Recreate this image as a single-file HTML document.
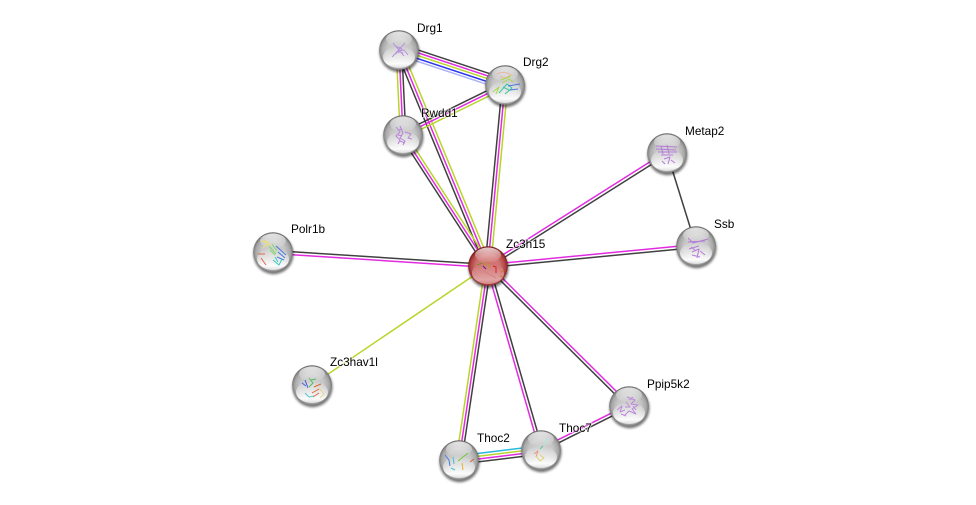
<!DOCTYPE html>
<html><head><meta charset="utf-8"><title>Zc3h15 network</title>
<style>
html,body{margin:0;padding:0;background:#fff;width:976px;height:505px;overflow:hidden}
svg{display:block}
text{font-family:"Liberation Sans",sans-serif;font-size:11.8px;fill:#000;paint-order:stroke;stroke:rgba(255,255,255,.6);stroke-width:2px}
.e path{fill:none;stroke-width:1.5}
.d{stroke:#404040}.m{stroke:#e22be0}.y{stroke:#b9d42a}.b{stroke:#2a35f0}.l{stroke:#aeb2fa}.c{stroke:#28b8dc}
.s path{fill:none;stroke-width:1;stroke-linejoin:round}
</style></head><body>
<svg width="976" height="505" viewBox="0 0 976 505" xmlns="http://www.w3.org/2000/svg">
<defs>
<radialGradient id="g" cx="50%" cy="52%" r="51%"><stop offset="0" stop-color="#d2d2d2"/><stop offset=".6" stop-color="#c6c6c6"/><stop offset=".85" stop-color="#a8a8a8"/><stop offset=".95" stop-color="#858585"/><stop offset="1" stop-color="#666"/></radialGradient>
<radialGradient id="r" cx="50%" cy="52%" r="51%"><stop offset="0" stop-color="#dc8a8a"/><stop offset=".6" stop-color="#d07070"/><stop offset=".85" stop-color="#b04444"/><stop offset=".95" stop-color="#8e2a2a"/><stop offset="1" stop-color="#701414"/></radialGradient>
<linearGradient id="h" x1="0" y1="0" x2="0" y2="1"><stop offset="0" stop-color="#fff" stop-opacity=".75"/><stop offset="1" stop-color="#fff" stop-opacity="0"/></linearGradient>
<linearGradient id="w" x1="0" y1="0" x2="0" y2="1"><stop offset="0" stop-color="#fff" stop-opacity="0"/><stop offset=".8" stop-color="#fff" stop-opacity=".95"/><stop offset="1" stop-color="#fff" stop-opacity=".6"/></linearGradient>
<filter id="f" x="-30%" y="-30%" width="160%" height="160%"><feGaussianBlur stdDeviation="1.2"/></filter>
<filter id="p" x="-20%" y="-20%" width="140%" height="140%"><feGaussianBlur stdDeviation=".3"/></filter>
<g id="base"><circle cx="0.5" cy="2.2" r="20" fill="#000" opacity=".55" filter="url(#f)"/><circle r="19.8" fill="url(#g)"/></g>
<g id="baser"><circle cx="0.5" cy="2.2" r="20" fill="#000" opacity=".55" filter="url(#f)"/><circle r="19.8" fill="url(#r)"/></g>
<g id="gloss"><ellipse cy="-11" rx="13" ry="7.5" fill="url(#h)"/><ellipse cy="7" rx="16" ry="11" fill="url(#w)"/></g>
</defs>
<rect width="976" height="505" fill="#fff"/>

<g class="e">
<g transform="translate(399 50) rotate(18.3)"><path class="d" d="M0-6H112"/><path class="m" d="M0-3.3H112"/><path class="y" d="M0-.6H112"/><path class="b" d="M0 2.3H112"/><path class="l" d="M0 5H112"/></g>
<g transform="translate(399 50) rotate(87.3)"><path class="d" d="M0-2.8H85"/><path class="m" d="M0 0H85"/><path class="y" d="M0 2.8H85"/></g>
<g transform="translate(399 50) rotate(67.6)"><path class="d" d="M0 3H234"/><path class="m" d="M0 0H234"/><path class="y" d="M0-3H234"/></g>
<g transform="translate(403 135) rotate(-26.1)"><path class="d" d="M0-2.8H114"/><path class="m" d="M0 0H114"/><path class="y" d="M0 2.8H114"/></g>
<g transform="translate(505 85) rotate(95.4)"><path class="d" d="M0 2.8H182"/><path class="m" d="M0 0H182"/><path class="y" d="M0-2.8H182"/></g>
<g transform="translate(403 135) rotate(57)"><path class="d" d="M0 2.8H156"/><path class="m" d="M0 0H156"/><path class="y" d="M0-2.8H156"/></g>
<g transform="translate(488 266) rotate(-32.3)"><path class="m" d="M0-1.5H212"/><path class="d" d="M0 1.5H212"/></g>
<path class="d" d="M667 153L696 246"/>
<g transform="translate(488 266) rotate(-5.5)"><path class="m" d="M0-1.5H209"/><path class="d" d="M0 1.5H209"/></g>
<g transform="translate(273 252) rotate(3.7)"><path class="d" d="M0-1.5H215"/><path class="m" d="M0 1.5H215"/></g>
<g transform="translate(312 385) rotate(-34.1)"><path class="y" d="M0 0H212"/></g>
<g transform="translate(488 266) rotate(98.5)"><path class="y" d="M0 2.8H196"/><path class="m" d="M0 0H196"/><path class="d" d="M0-2.8H196"/></g>
<g transform="translate(488 266) rotate(73.9)"><path class="m" d="M0 1.5H191"/><path class="d" d="M0-1.5H191"/></g>
<g transform="translate(488 266) rotate(44.8)"><path class="m" d="M0-1.5H199"/><path class="d" d="M0 1.5H199"/></g>
<g transform="translate(459 460) rotate(-7)"><path class="c" d="M0-4.2H83"/><path class="y" d="M0-1.4H83"/><path class="m" d="M0 1.4H83"/><path class="d" d="M0 4.2H83"/></g>
<g transform="translate(541 450) rotate(-26.6)"><path class="m" d="M0-1.5H98"/><path class="d" d="M0 1.5H98"/></g>
</g>

<g class="s">
<g transform="translate(399 50)"><use href="#base"/><use href="#gloss"/><g filter="url(#p)"><path stroke="#b794dc" d="M-6-7L5 6M6-7L-6 6M-7 7L-1 1L4 3M1-3L-3 4M-1 1L5 0L9 5M-4-4L3-1L-1 3"/></g></g>
<g transform="translate(505 85)"><use href="#base"/><use href="#gloss"/><g filter="url(#p)"><path stroke="#e8b8a8" stroke-width="1.3" d="M-8-11Q0-15 8-9M-5-9Q0-5 5-10"/><path stroke="#a8d848" stroke-width="1.4" d="M-12 7L-6 2L-9 9M-4-5L6-9M-3-2L4-6L8-3"/><path stroke="#38c8a0" stroke-width="2.4" d="M-6 8L2-1L7 3L0 9M-2 2L4 5"/><path stroke="#4878e0" stroke-width="2.4" d="M3 1L15-1M5 5L13 4"/></g></g>
<g transform="translate(403 135)"><use href="#base"/><use href="#gloss"/><g filter="url(#p)"><path stroke="#b884dc" stroke-width="1.5" d="M-7-8L-3-3L-7 1L-3 5L-5 9M-3-9L0-2L-3 3L2 6L0 10M2-3L8-1L5 3L9 4M-5-5L-1-6M-5 0L-1 1M-3 6L2 8"/></g></g>
<g transform="translate(667 153)"><use href="#base"/><use href="#gloss"/><g filter="url(#p)"><path stroke="#b57cd8" stroke-width="1.4" d="M-11-7L10-6M-11-4L9-3M-9-1L10-1M-6 2L6 2M-3 6L3 4L1 11M4 7L8 10M-5 8L-2 11M-6-7L-4 1M0-8L2 1"/></g></g>
<g transform="translate(696 246)"><use href="#base"/><use href="#gloss"/><g filter="url(#p)"><path stroke="#b57cd8" stroke-width="1.4" d="M-8-8L-3-3L12-7M-8-4L9-5M-7 3L3 0M-4 6L3 3L1 12M4 5L9 9M-4 9L4 11M-5 1L-1 4"/></g></g>
<g transform="translate(273 252)"><use href="#base"/><use href="#gloss"/><g filter="url(#p)"><path stroke="#e8e070" stroke-width="1.6" d="M-12-11L-4-9L-10-4M-8-12L-2-6"/><path stroke="#80d870" stroke-width="2" d="M-4-6L3 2M-1-8L4-1M-3-2L2 3"/><path stroke="#4878e0" stroke-width="2.2" d="M3-6L13 3M5 0L12 6M4 5L11 8"/><path stroke="#38c8c0" stroke-width="1.6" d="M0 8L6 13L9 7M2 5L5 10"/><path stroke="#e06848" stroke-width="1.4" d="M-15 2L-8 2M-12 6L-7 13"/></g></g>
<g transform="translate(312 385)"><use href="#base"/><use href="#gloss"/><g filter="url(#p)"><path stroke="#4060e0" stroke-width="2.2" d="M-10-2L-6 1M-7-5L-4 3"/><path stroke="#50c060" stroke-width="1.8" d="M-3-7L1-2L-3 2M-1-5L4-6"/><path stroke="#e06838" stroke-width="2.4" d="M2 2L9-1M0 8L7 4M1 12L7 8"/><path stroke="#58c8c8" stroke-width="1.2" d="M-7 8L-3 12L2 11"/><path stroke="#e8d890" stroke-width="1.2" d="M7 3L12 9L8 13"/></g></g>
<g transform="translate(459 460)"><use href="#base"/><use href="#gloss"/><g filter="url(#p)"><path stroke="#4878e0" stroke-width="2.2" d="M-14-5L-10 0L-9 6"/><path stroke="#48c0d0" stroke-width="1.4" d="M-6-3L-5 4M-8 8L-4 10"/><path stroke="#70c838" stroke-width="2.2" d="M-1 1L9-7"/><path stroke="#e0b038" stroke-width="1.8" d="M3 3L4 10"/><path stroke="#c86838" stroke-width="2.4" d="M11 2L15-1"/></g></g>
<g transform="translate(541 450)"><use href="#base"/><use href="#gloss"/><g filter="url(#p)"><path stroke="#a8e8d8" d="M6-12L3-5"/><path stroke="#50c890" stroke-width="1.6" d="M2-4L-1-1"/><path stroke="#e89878" stroke-width="1.3" d="M-7 4L-3 1L-5 7"/><path stroke="#e0d070" stroke-width="1.3" d="M-5 6L-1 11L3 8L-1 5"/></g></g>
<g transform="translate(629 406)"><use href="#base"/><use href="#gloss"/><g filter="url(#p)"><path stroke="#bb88dc" stroke-width="1.3" d="M-2-9L6-6L2-2L9-1L3 3L7 8L0 5L-4 9M-12 4L-7 0L-9 6L-4 4M-3-4L1 1L-4 1M-8 8L-3 10M0-6L4-9M4 0L7 4"/></g></g>
<g transform="translate(488 266)"><use href="#baser"/><use href="#gloss"/><ellipse cy="7" rx="16" ry="11" fill="#c86060" opacity=".55"/><g filter="url(#p)"><path stroke="#709020" stroke-width="2" d="M-11-1L-6-3"/><path stroke="#602080" stroke-width="2.6" d="M-5 0L-2 3"/><path stroke="#b0a020" stroke-width="1.6" d="M-1-5L-3 0M1-2L1 2"/><path stroke="#e02020" stroke-width="2.2" d="M5 0L8 1L8 7"/><path stroke="#e07020" stroke-width="2" d="M13 6L16 5M12 10L15 11"/><path stroke="#d88080" d="M-4 5L8 12"/></g></g>
</g>

<text x="417" y="32">Drg1</text>
<text x="523" y="66">Drg2</text>
<text x="421" y="117">Rwdd1</text>
<text x="685" y="135">Metap2</text>
<text x="714" y="228">Ssb</text>
<text x="506" y="248">Zc3h15</text>
<text x="291" y="233">Polr1b</text>
<text x="330" y="366">Zc3hav1l</text>
<text x="477" y="442">Thoc2</text>
<text x="559" y="432">Thoc7</text>
<text x="647" y="388">Ppip5k2</text>
</svg>
</body></html>
